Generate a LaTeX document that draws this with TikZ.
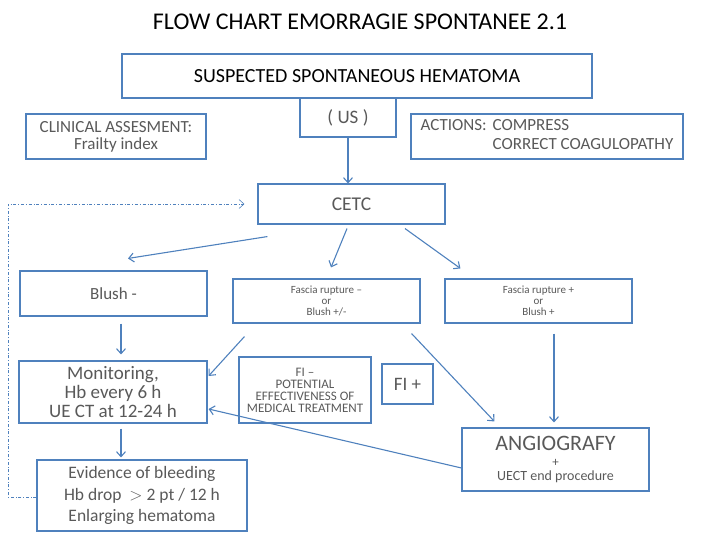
\documentclass[tikz,border=0pt]{standalone}
\usepackage{fontspec}
\setmainfont{Carlito}
\usepackage{tikz}
\usetikzlibrary{arrows.meta,calc,positioning}
\usepackage{xcolor}
\definecolor{Boxblue}{RGB}{79,129,189}
\definecolor{Txtgray}{RGB}{89,89,89}

\begin{document}
\begin{tikzpicture}[x=1pt,y=-1pt,
  box/.style={draw=Boxblue,line width=1.1pt,text=Txtgray,align=center,inner sep=0pt},
  conn/.style={draw=Boxblue,line width=1.1pt,-{Straight Barb[length=5pt,width=9pt]}},
  fs/.style={font=\fontsize{#1}{#1}\selectfont}]
\useasboundingbox (0,0) rectangle (720,540);
\node[fs=24,text=black] (title) at (360,22) {FLOW CHART EMORRAGIE SPONTANEE 2.1};
%
\node[box,fs=20,text=black,minimum width=470,minimum height=44] (hemat) at (357,76) {SUSPECTED SPONTANEOUS HEMATOMA};
\node[box,fs=19,minimum width=96,minimum height=39] (us) at (348,117.5) {(\ US\ )};
\node[box,fs=17,minimum width=180,minimum height=45] (clin) at (116,136.5) {CLINICAL ASSESMENT:\\Frailty index};
\node[box,fs=17,minimum width=272,minimum height=45] (act) at (547,136.5)
  {\begin{tabular}{@{}l@{\hspace{6pt}}l@{}}ACTIONS: & COMPRESS\\[2pt] & CORRECT COAGULOPATHY\end{tabular}};
\node[box,fs=19.5,minimum width=187,minimum height=40] (cetc) at (351.5,204) {CETC};
%
\node[box,fs=17,minimum width=187,minimum height=45] (blush) at (113.5,293.5) {Blush -};
\node[box,fs=11,minimum width=187,minimum height=44] (fascm) at (326.5,301) {Fascia rupture --\\or\\Blush +/-};
\node[box,fs=11,minimum width=187,minimum height=44] (fascp) at (538.5,301) {Fascia rupture +\\or\\Blush +};
%
\node[box,fs=19,minimum width=188,minimum height=62] (monit) at (113,392) {Monitoring,\\Hb every 6 h\\UE CT at 12-24 h};
\node[box,fs=13,minimum width=132,minimum height=66] (fim) at (305,390) {FI --\\[-1pt]POTENTIAL\\[-1pt]EFFECTIVENESS OF\\[-1pt]MEDICAL TREATMENT};
\node[box,fs=19,minimum width=51,minimum height=40] (fip) at (407.5,384) {FI +};
\node[box,minimum width=187,minimum height=63] (angio) at (555.5,459.5)
  {{\fontsize{22}{22}\selectfont ANGIOGRAFY}\\[4pt]{\fontsize{13}{13}\selectfont +}\\[2pt]{\fontsize{14}{14}\selectfont UECT end procedure}};
\node[box,fs=17.5,minimum width=210,minimum height=71] (evid) at (142,495.5) {Evidence of bleeding\\[4pt]Hb drop\ \ $>$ 2 pt / 12 h\\[4pt]Enlarging hematoma};
%
\draw[conn] (us.south) -- (us.south |- cetc.north);
\draw[conn] ([shift={(10,12)}]cetc.south west) -- ([shift={(14.5,-12)}]blush.north);
\draw[conn] ([shift={(-4.5,4)}]cetc.south) -- ([shift={(4.5,-11)}]fascm.north);
\draw[conn] ([shift={(53.5,4)}]cetc.south) -- ([shift={(16,-10)}]fascp.north west);
\draw[conn] ([shift={(7.5,7)}]blush.south) -- ([shift={(8,-6)}]monit.north);
\draw[conn] ([shift={(12,13)}]fascm.south west) -- ([shift={(1,-16)}]monit.east);
\draw[conn] ([shift={(-9,10)}]fascm.south east) -- ([shift={(33,-6)}]angio.north west);
\draw[conn] ([shift={(15.5,10)}]fascp.south) -- ([shift={(-1.5,-5)}]angio.north);
\draw[conn] ([shift={(0,8.5)}]angio.west) -- ([shift={(1,17)}]monit.east);
\draw[conn] ([shift={(8,5)}]monit.south) -- ([shift={(-21,-2)}]evid.north);
%
\coordinate (loop) at (8,204);
\draw[conn,line width=0.6pt,dash dot] ([yshift=-1.5]evid.west) -| (loop) -- ([xshift=-13]cetc.west);
\end{tikzpicture}
\end{document}
